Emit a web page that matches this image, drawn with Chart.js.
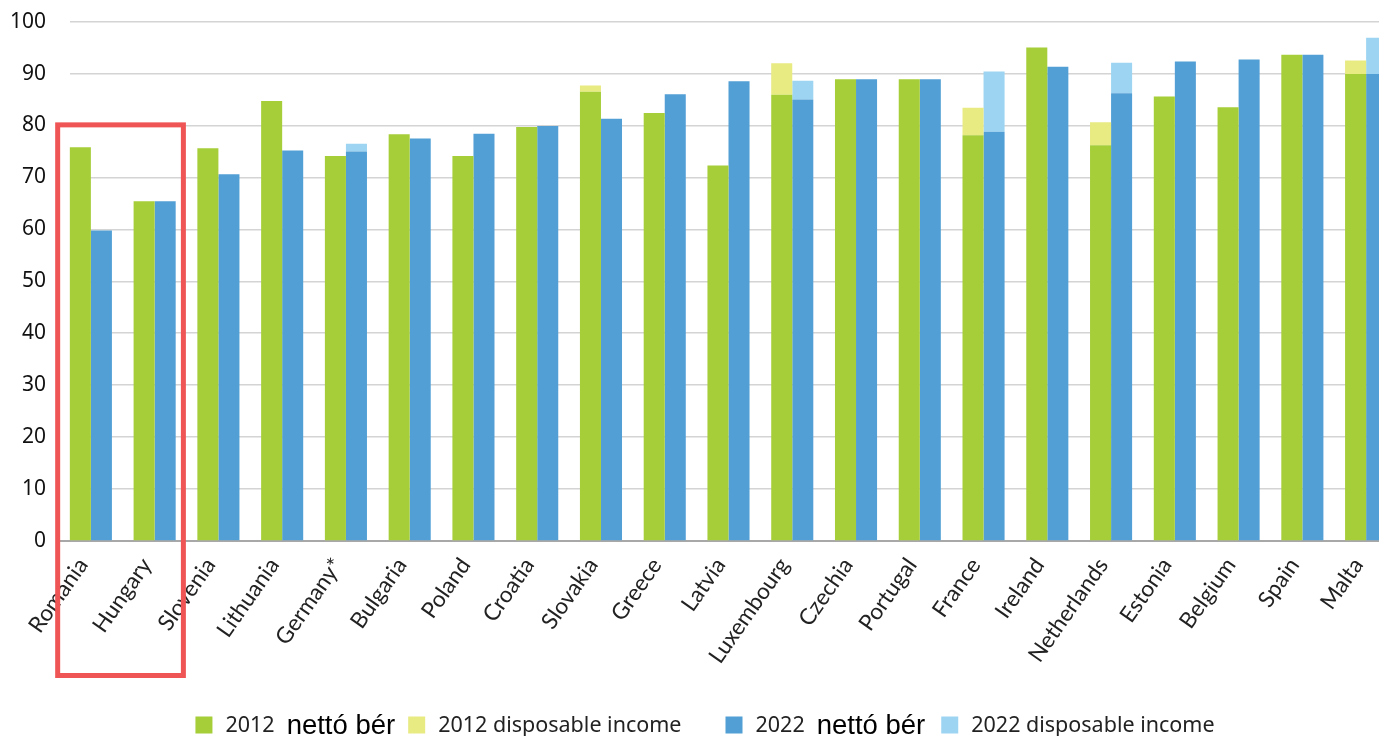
<!DOCTYPE html>
<html><head><meta charset="utf-8">
<script src="https://cdn.jsdelivr.net/npm/chart.js@4/dist/chart.umd.min.js"></script>
<style>html,body{margin:0;padding:0;overflow:hidden;background:#fff;width:1379px;height:736px}
#wrap{position:absolute;left:0;top:-4px;width:1398px;height:740px}</style>
</head><body><div id="wrap"><canvas id="c" width="1398" height="740"></canvas></div>
<script>
const countries = ['Romania','Hungary','Slovenia','Lithuania','Germany*','Bulgaria','Poland','Croatia','Slovakia','Greece','Latvia','Luxembourg','Czechia','Portugal','France','Ireland','Netherlands','Estonia','Belgium','Spain','Malta'];
const net2012  = [75.8,65.4,75.6,84.7,74.1,78.3,74.1,79.7,86.5,82.4,72.3,85.9,88.9,88.9,78.1,95.0,76.2,85.6,83.5,93.6,89.9];
const disp2012 = [null,null,null,null,null,null,null,null,87.7,null,null,92.0,null,null,83.4,null,80.6,null,null,null,92.5];
const net2022  = [59.8,65.4,70.6,75.2,75.0,77.5,78.4,79.9,81.3,86.0,88.5,85.0,88.9,88.9,78.8,91.3,86.2,92.3,92.7,93.6,89.9];
const disp2022 = [null,null,null,null,76.5,null,null,null,null,null,null,88.6,null,null,90.4,null,92.1,null,null,null,96.9];
const yTicks = [0,10,20,30,40,50,60,70,80,90,100];
const labels = ['2012 nettó bér','2012 disposable income','2022 nettó bér','2022 disposable income'];
const colors = ['#a6ce39','#e8ea82','#529fd6','#9dd4f2'];

const range = (net, disp) => net.map((v, i) => disp[i] == null ? null : [v, disp[i]]);

// gridlines in the reference begin a little right of the category edge
const gridTrim = {
  id: 'gridTrim',
  beforeDatasetsDraw(chart) {
    const a = chart.chartArea, ctx = chart.ctx;
    ctx.save();
    ctx.fillStyle = '#fff';
    ctx.fillRect(a.left - 1, a.top - 2, 12, a.bottom - a.top);
    ctx.restore();
  }
};

const boxPlugin = {
  id: 'highlightBox',
  afterDraw(chart) {
    const x = chart.scales.x, y = chart.scales.y, ctx = chart.ctx;
    const cw = x.getPixelForValue(1) - x.getPixelForValue(0);
    const l = x.getPixelForValue(0) - 0.56 * cw, r = x.getPixelForValue(1) + 0.49 * cw;
    const t = y.getPixelForValue(80.6), b = chart.chartArea.bottom + 137;
    ctx.save();
    ctx.strokeStyle = '#f05555';
    ctx.lineWidth = 5;
    ctx.strokeRect(l + 2.5, t + 2.5, r - l - 5, b - t - 5);
    ctx.restore();
  }
};

// legend with mixed fonts: "nettó bér" is set in a larger Arial-like face
const legendPlugin = {
  id: 'mixedLegend',
  afterDraw(chart) {
    const ctx = chart.ctx;
    const fA = '21.5px "Noto Sans"', fB = '27.5px "Liberation Sans"';
    const box = 17, boxGap = 13, partGap = 12;
    const gaps = [13, 44, 16];
    const items = chart.data.datasets.map(ds => {
      const lbl = ds.label;
      const sp = lbl.indexOf(' ');
      const head = lbl.slice(0, sp), tail = lbl.slice(sp + 1);
      const mixed = tail.startsWith('nettó');
      const parts = mixed ? [[head, fA], [tail, fB]] : [[lbl, fA]];
      let w = box + boxGap;
      parts.forEach((p, i) => { ctx.font = p[1]; p.push(ctx.measureText(p[0]).width); w += p[2] + (i ? partGap : 0); });
      return {color: ds.backgroundColor, parts, w};
    });
    const total = items.reduce((s, it) => s + it.w, 0) + gaps.reduce((a, b) => a + b, 0);
    let xPos = 705 - total / 2;
    const cy = 729;
    ctx.save();
    ctx.textBaseline = 'middle';
    items.forEach((it, i) => {
      ctx.fillStyle = it.color;
      ctx.fillRect(xPos, cy - box / 2, box, box);
      let tx = xPos + box + boxGap;
      it.parts.forEach((p, j) => {
        if (j) tx += partGap;
        ctx.font = p[1];
        ctx.fillStyle = j ? '#000' : '#222';
        ctx.fillText(p[0], tx, cy + 1);
        tx += p[2];
      });
      xPos += it.w + (gaps[i] || 0);
    });
    ctx.restore();
  }
};

new Chart(document.getElementById('c'), {
  type: 'bar',
  data: {
    labels: countries,
    datasets: [
      {label: labels[0], data: net2012, backgroundColor: colors[0], stack: 's2012'},
      {label: labels[1], data: range(net2012, disp2012), backgroundColor: colors[1], stack: 's2012'},
      {label: labels[2], data: net2022, backgroundColor: colors[2], stack: 's2022'},
      {label: labels[3], data: range(net2022, disp2022), backgroundColor: colors[3], stack: 's2022'}
    ]
  },
  options: {
    responsive: false,
    animation: false,
    devicePixelRatio: 1,
    categoryPercentage: 0.66,
    barPercentage: 1.0,
    layout: {padding: {top: 17, left: 0, right: 0, bottom: 0}},
    scales: {
      x: {
        stacked: true,
        grid: {display: false},
        border: {display: true, color: '#a8a8a8', width: 2},
        ticks: {maxRotation: 55, minRotation: 55, autoSkip: false, color: '#222', padding: 4, labelOffset: -8,
                font: {family: 'Lato', size: 22.5}},
        afterFit(s) { s.height = 195; }
      },
      y: {
        stacked: false,
        min: 0, max: 100,
        afterBuildTicks(s) { s.ticks = yTicks.map(v => ({value: v})); },
        grid: {color: '#d4d4d4', lineWidth: 1.5, drawTicks: false},
        border: {display: false},
        ticks: {color: '#111', padding: 13, font: {family: 'Noto Sans', size: 21}},
        afterFit(s) { s.width = 59; }
      }
    },
    plugins: {
      legend: {display: false},
      tooltip: {enabled: false}
    }
  },
  plugins: [gridTrim, boxPlugin, legendPlugin]
});
</script></body></html>
